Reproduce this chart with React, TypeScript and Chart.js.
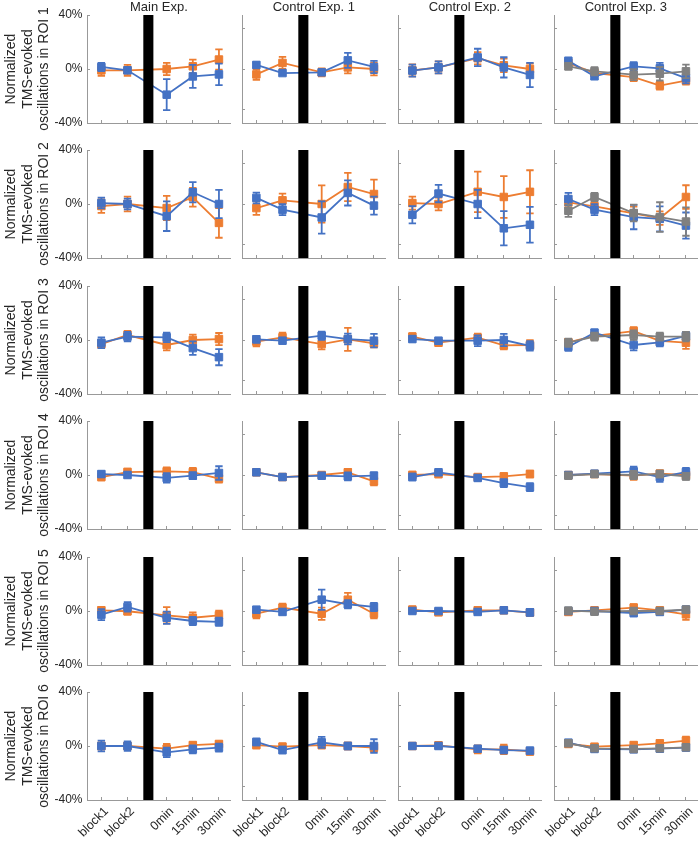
import React, { useEffect, useRef } from "react";
import { Chart, registerables } from "chart.js";

Chart.register(...registerables);

// ---------- data ----------
const xPositions = [1, 2, 3.5, 4.5, 5.5];
const xLabels = ["block1", "block2", "0min", "15min", "30min"];
const experimentTitles = ["Main Exp.", "Control Exp. 1", "Control Exp. 2", "Control Exp. 3"];
const roiNames = ["ROI 1", "ROI 2", "ROI 3", "ROI 4", "ROI 5", "ROI 6"];
const pauseStart = 2.6;
const pauseEnd = 3.0;
const yTicksLabelled = [-40, 0, 40];
const yTicksPlain = [-30, 0, 30];

// Main Exp.
const mainOrangeMean = [
  [-1, -1, 0, 2, 7],
  [-1.5, 0, -3, 5, -14],
  [-3, 3.7, -3.7, 0, 0.7],
  [-1.5, 2.2, 2.7, 2.2, -2.7],
  [0.5, -0.2, -3.2, -5, -3.2],
  [0, 0, -2, 0.7, 1.5],
];
const mainOrangeErr = [
  [4, 4, 4.5, 5, 7.5],
  [5, 5.5, 9, 7, 11],
  [3, 3, 4, 4, 4.5],
  [2.5, 2.5, 3, 3, 3],
  [2.5, 2.5, 6, 4, 3.5],
  [2.5, 2.5, 3.5, 2, 2],
];
const mainBlueMean = [
  [1.5, -1, -19, -5.5, -4],
  [0.7, 0, -9, 8.7, 0],
  [-2, 2.5, 2, -6, -12.7],
  [0.7, 0, -2.2, -0.5, 1.5],
  [-2.7, 3, -5, -7.4, -8],
  [0, 0, -4.7, -2.5, -1.2],
];
const mainBlueErr = [
  [3, 2, 11.5, 8.5, 8],
  [4, 4, 11, 7.5, 10.5],
  [4, 3.5, 3.5, 5, 6],
  [2, 2, 3.5, 2.5, 5],
  [4, 3.5, 4.5, 3, 3],
  [4, 3.5, 3.5, 3, 3],
];

// Control Exp. 1
const ctrl1OrangeMean = [
  [-4, 4.5, -2.5, 1.2, 0],
  [-3, 2.7, 0, 12.6, 7.4],
  [-1.2, 2, -3, 0.5, -2.5],
  [2, -1.5, 0, 2, -4.7],
  [-2, 2.5, -2, 8.4, -2],
  [0.7, -0.5, 0.7, 0, -1.2],
];
const ctrl1OrangeErr = [
  [4, 4.5, 3, 4.5, 4.7],
  [5, 5, 13.8, 10.5, 10.7],
  [3.5, 3.5, 4, 8.5, 3],
  [2, 2, 2, 2.5, 3],
  [3.5, 3, 4.5, 5, 3.5],
  [2.5, 2.5, 2.5, 2.5, 3],
];
const ctrl1BlueMean = [
  [3, -3, -2.5, 6.4, 1.5],
  [4.5, -4.2, -10, 8.2, -1.2],
  [0.5, -0.5, 3.2, 0.7, -0.5],
  [2, -1.5, -0.5, -1, -0.5],
  [1, -0.7, 8.4, 5, 3],
  [3, -3, 2.7, 0, 0],
];
const ctrl1BlueErr = [
  [2, 1.5, 2, 5.5, 4.5],
  [4, 4, 12, 9.3, 6.6],
  [2.5, 2, 3, 4, 5],
  [2, 2, 2, 3, 2.5],
  [2, 2, 7.5, 3, 3],
  [2.5, 2.5, 4, 2.5, 5],
];

// Control Exp. 2
const ctrl2OrangeMean = [
  [-1, 1.2, 8, 2.7, 0],
  [0.7, 0, 9, 5.2, 9],
  [2.5, -2, 1.7, -4, -3.7],
  [0, 0.7, -1.5, -1, 0.7],
  [1, -1, 0.5, 0.5, -1.2],
  [0, 0.5, -2.5, -2.5, -4],
];
const ctrl2OrangeErr = [
  [4.5, 4.5, 4.5, 5, 4],
  [4.8, 4.7, 15, 15.5, 16],
  [2.5, 2, 3, 3, 3.5],
  [2.5, 2.5, 2, 2, 2.5],
  [2.5, 2, 2.5, 2, 2.5],
  [2, 2, 3, 3.5, 2.5],
];
const ctrl2BlueMean = [
  [-1.2, 1.2, 8.6, 1.2, -4.4],
  [-8, 7.7, 0, -18, -15.4],
  [0.7, -0.5, -0.5, 0, -4.4],
  [-1.5, 2, -2.2, -6, -9],
  [0, 0, -0.7, 0.5, -1],
  [0, 0, -2, -3, -3.4],
];
const ctrl2BlueErr = [
  [4.5, 4.5, 6.4, 7.5, 9],
  [6.4, 6.4, 10.5, 12.7, 13.2],
  [2, 2, 4, 4.5, 3.5],
  [2.5, 2, 2, 3, 3],
  [2, 2, 2, 2, 2.5],
  [2, 2, 2, 2, 2],
];

// Control Exp. 3
const ctrl3OrangeMean = [
  [4.5, -3, -6, -12.3, -8.6],
  [1.2, -1.7, -7, -10.5, 5.2],
  [-1.7, 3, 6.6, -0.7, -2],
  [0, 0.7, -0.5, 1, 0],
  [-0.7, 0.5, 2.5, 0.5, -2.5],
  [1.5, -0.5, 0.7, 2, 4],
];
const ctrl3OrangeErr = [
  [2.5, 2, 3, 3, 3],
  [4.5, 3.5, 5, 5, 8.7],
  [2.5, 2.5, 3, 3, 4.5],
  [2, 2, 3, 2.5, 2.5],
  [2, 2, 2.5, 2, 4],
  [2, 2, 2, 2, 3],
];
const ctrl3BlueMean = [
  [6, -5.4, 2, 0.5, -6.7],
  [3.7, -4.2, -9.7, -11, -16],
  [-5, 5.4, -3.7, -1.7, 3],
  [0, 1, 2.7, -1.5, 2.2],
  [0, 0, -1.5, -0.7, 1],
  [2.5, -2.2, -2.5, -2, -1.2],
];
const ctrl3BlueErr = [
  [2.5, 2, 3, 4, 4],
  [4.6, 4, 9, 9.3, 9.7],
  [3, 2.5, 4, 3, 3],
  [2, 2, 3.5, 3.5, 3],
  [2, 2, 2.5, 2, 2.5],
  [2, 2, 2, 2, 2],
];
const ctrl3GrayMean = [
  [2, -1.7, -4.2, -3.5, -1.7],
  [-5, 5.2, -6.7, -9.7, -13],
  [-2, 2.5, 3.7, 2.5, 2.5],
  [-0.5, 0.7, 0, 0.7, -1],
  [0.3, -0.5, 0, 0, 1],
  [2, -1.7, -2.2, -1.7, -1],
];
const ctrl3GrayErr = [
  [2.5, 3, 4, 5, 5],
  [4.5, 3, 6.2, 11, 10.5],
  [3, 3, 3.5, 3, 3.5],
  [2, 2, 3, 2.5, 2.5],
  [2, 2, 2, 2, 2.5],
  [2, 2, 2, 2, 2],
];

// ---------- styling ----------
const ORANGE = "#ED7D31";
const BLUE = "#4472C4";
const GRAY = "#808080";
const AXIS = "#999999";
const TEXT = "#262626";
const FONT = '"Liberation Sans", Arial, Helvetica, sans-serif';

const plotLefts = [87, 242, 398, 554];
const plotTops = [15, 150, 286, 421, 557, 692];
const PLOT_W = 144;
const PLOT_H = 108;

type Series = { color: string; mean: number[][]; err: number[][] };
const experiments: Series[][] = [
  [
    { color: ORANGE, mean: mainOrangeMean, err: mainOrangeErr },
    { color: BLUE, mean: mainBlueMean, err: mainBlueErr },
  ],
  [
    { color: ORANGE, mean: ctrl1OrangeMean, err: ctrl1OrangeErr },
    { color: BLUE, mean: ctrl1BlueMean, err: ctrl1BlueErr },
  ],
  [
    { color: ORANGE, mean: ctrl2OrangeMean, err: ctrl2OrangeErr },
    { color: BLUE, mean: ctrl2BlueMean, err: ctrl2BlueErr },
  ],
  [
    { color: ORANGE, mean: ctrl3OrangeMean, err: ctrl3OrangeErr },
    { color: BLUE, mean: ctrl3BlueMean, err: ctrl3BlueErr },
    { color: GRAY, mean: ctrl3GrayMean, err: ctrl3GrayErr },
  ],
];

const errorBarPlugin = {
  id: "errorBars",
  afterDatasetDraw(chart: any, args: any) {
    const ds = chart.data.datasets[args.index];
    if (!ds.errors) return;
    const ctx = chart.ctx;
    const yScale = chart.scales.y;
    const area = chart.chartArea;
    ctx.save();
    ctx.beginPath();
    ctx.rect(area.left, area.top, area.right - area.left, area.bottom - area.top);
    ctx.clip();
    ctx.strokeStyle = ds.borderColor;
    ctx.lineWidth = 1.8;
    const cap = 3.7;
    args.meta.data.forEach((pt: any, i: number) => {
      const v = ds.data[i].y;
      const e = ds.errors[i];
      const yHi = yScale.getPixelForValue(v + e);
      const yLo = yScale.getPixelForValue(v - e);
      ctx.beginPath();
      ctx.moveTo(pt.x, yHi);
      ctx.lineTo(pt.x, yLo);
      ctx.moveTo(pt.x - cap, yHi);
      ctx.lineTo(pt.x + cap, yHi);
      ctx.moveTo(pt.x - cap, yLo);
      ctx.lineTo(pt.x + cap, yLo);
      ctx.stroke();
    });
    ctx.restore();
  },
};

const panelTitlePlugin = {
  id: "panelTitle",
  afterDraw(chart: any, _args: any, opts: any) {
    if (!opts || !opts.text) return;
    const { ctx, chartArea } = chart;
    ctx.save();
    ctx.font = `13px ${FONT}`;
    ctx.fillStyle = TEXT;
    ctx.textAlign = "center";
    ctx.textBaseline = "middle";
    ctx.fillText(opts.text, (chartArea.left + chartArea.right) / 2, chartArea.top - 7.5);
    ctx.restore();
  },
};

function Panel({ row, col }: { row: number; col: number }) {
  const ref = useRef<HTMLCanvasElement>(null);
  const padL = col === 0 ? 87 : 45;
  const padR = 6;
  const padT = 15;
  const padB = row === 5 ? 41 : 10;
  const width = padL + PLOT_W + padR;
  const height = padT + PLOT_H + padB;
  const left = plotLefts[col] - padL;
  const top = plotTops[row] - padT;

  useEffect(() => {
    if (!ref.current) return;
    const series = experiments[col];
    const datasets: any[] = series.map((s, k) => ({
      type: "line",
      data: xPositions.map((x, i) => ({ x, y: s.mean[row][i] })),
      errors: s.err[row],
      borderColor: s.color,
      backgroundColor: s.color,
      borderWidth: 1.8,
      pointStyle: "rect",
      pointRadius: 5.3,
      pointBorderWidth: 1,
      pointBackgroundColor: s.color,
      pointBorderColor: s.color,
      fill: false,
      order: series.length - k + 1,
    }));
    datasets.push({
      type: "line",
      data: [
        { x: pauseStart, y: 40 },
        { x: pauseEnd, y: 40 },
      ],
      borderWidth: 0,
      borderColor: "#000",
      backgroundColor: "#000",
      pointRadius: 0,
      fill: { value: -40 },
      order: 0,
    });

    const isLast = row === 5;
    const isFirstCol = col === 0;
    const yTicks = isFirstCol ? yTicksLabelled : yTicksPlain;

    const chart = new Chart(ref.current, {
      type: "line",
      data: { datasets },
      plugins: [errorBarPlugin, panelTitlePlugin],
      options: {
        animation: false,
        responsive: false,
        devicePixelRatio: 1,
        events: [],
        layout: { padding: { left: 0, top: padT, right: padR, bottom: 0 } },
        plugins: {
          legend: { display: false },
          tooltip: { enabled: false },
          title: { display: false },
          panelTitle: { text: row === 0 ? experimentTitles[col] : "" },
        } as any,
        scales: {
          x: {
            type: "linear",
            min: 0.45,
            max: 5.95,
            afterBuildTicks: (s: any) => {
              s.ticks = xPositions.map((v) => ({ value: v }));
            },
            afterFit: (s: any) => {
              s.height = padB;
              s.paddingLeft = 0;
              s.paddingRight = 0;
              s.paddingTop = 0;
              s.paddingBottom = 0;
            },
            ticks: {
              display: isLast,
              autoSkip: false,
              minRotation: 45,
              maxRotation: 45,
              padding: 7,
              labelOffset: 5,
              color: TEXT,
              font: { family: FONT, size: 12.5 },
              callback: (v: any) => {
                const idx = xPositions.indexOf(Number(v));
                return idx >= 0 ? xLabels[idx] : "";
              },
            },
            grid: {
              display: true,
              drawOnChartArea: false,
              drawTicks: true,
              tickLength: -3,
              color: AXIS,
              lineWidth: 1,
            },
            border: { display: true, color: AXIS, width: 1 },
          },
          y: {
            type: "linear",
            min: -40,
            max: 40,
            afterBuildTicks: (s: any) => {
              s.ticks = yTicks.map((v) => ({ value: v }));
            },
            afterFit: (s: any) => {
              s.width = padL;
              s.paddingLeft = 0;
              s.paddingRight = 0;
              s.paddingTop = 0;
              s.paddingBottom = 0;
            },
            ticks: {
              display: isFirstCol,
              padding: 7.5,
              color: TEXT,
              font: { family: FONT, size: 12 },
              callback: (v: any) => `${v}%`,
            },
            grid: {
              display: true,
              drawOnChartArea: false,
              drawTicks: true,
              tickLength: -3,
              color: AXIS,
              lineWidth: 1,
            },
            border: { display: true, color: AXIS, width: 1 },
            title: {
              display: isFirstCol,
              text: ["Normalized", "TMS-evoked", `oscillations in ${roiNames[row]}`],
              color: TEXT,
              font: { family: FONT, size: 14, lineHeight: 1.2 },
              padding: { top: 2.6, bottom: 0 },
            },
          },
        },
      } as any,
    });
    return () => chart.destroy();
  }, [row, col]);

  return (
    <canvas
      ref={ref}
      width={width}
      height={height}
      style={{ position: "absolute", left, top, width, height, display: "block" }}
    />
  );
}

export default function App() {
  const cells: JSX.Element[] = [];
  for (let r = 0; r < 6; r++) {
    for (let c = 0; c < 4; c++) {
      cells.push(<Panel key={`${r}-${c}`} row={r} col={c} />);
    }
  }
  return (
    <div
      style={{
        position: "absolute",
        left: 0,
        top: 0,
        width: 700,
        height: 841,
        overflow: "hidden",
        background: "#fff",
      }}
    >
      {cells}
    </div>
  );
}
